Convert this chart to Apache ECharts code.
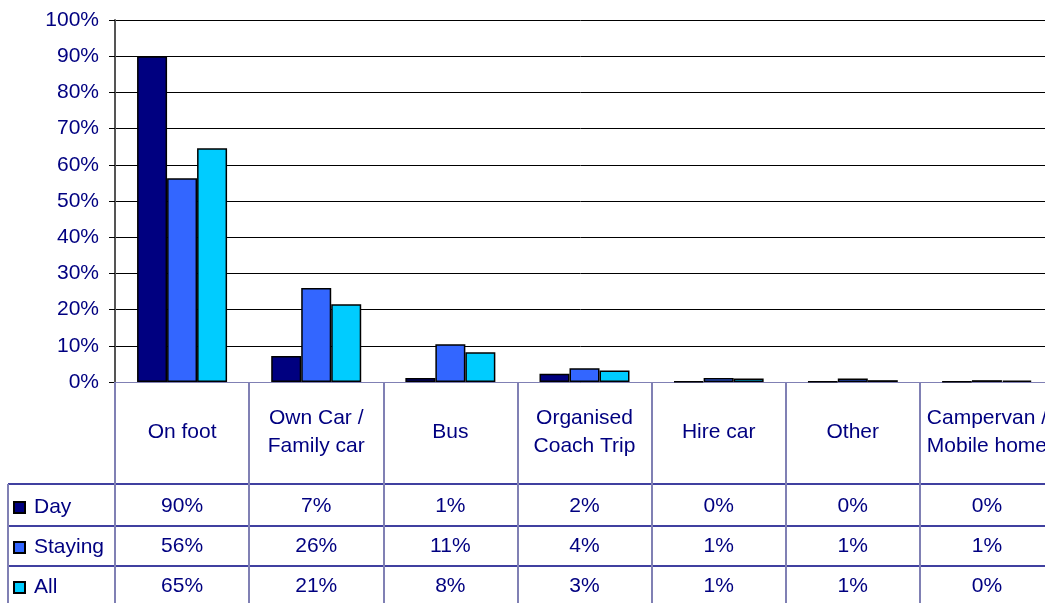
<!DOCTYPE html>
<html>
<head>
<meta charset="utf-8">
<script src="https://cdn.jsdelivr.net/npm/echarts@6/dist/echarts.min.js"></script>
<style>
  html, body { margin: 0; padding: 0; background: #fff; }
  #chart { width: 1045px; height: 603px; }
</style>
</head>
<body>
<div id="chart"></div>
<script>
// categories (x axis)
const categories = ['On foot', 'Own Car /\nFamily car', 'Bus', 'Organised\nCoach Trip', 'Hire car', 'Other', 'Campervan /\nMobile home'];
// bar heights (%)
const dayValues = [90, 7.2, 1.1, 2.3, 0.2, 0.1, 0.1];
const stayingValues = [56.3, 26, 10.4, 3.8, 1.1, 1.0, 0.5];
const allValues = [64.6, 21.5, 8.2, 3.2, 1.0, 0.5, 0.4];
// values printed in the data table (%)
const dayTable = [90, 7, 1, 2, 0, 0, 0];
const stayingTable = [56, 26, 11, 4, 1, 1, 1];
const allTable = [65, 21, 8, 3, 1, 1, 0];
const yTicks = [0, 10, 20, 30, 40, 50, 60, 70, 80, 90, 100];

const textColor = '#000080';
const tableLine = '#8080b4';
const rowLine = '#000080';
const font = 'Liberation Sans, Arial, sans-serif';
const fontSize = 21;

const chart = echarts.init(document.getElementById('chart'));

// one hidden-line x axis per table row, values shown as labels
function rowAxis(values, offset) {
  return {
    type: 'category',
    data: categories,
    position: 'bottom',
    offset: offset,
    axisLine: { show: false },
    axisTick: { show: false },
    axisLabel: {
      interval: 0,
      margin: 0,
      color: textColor,
      fontFamily: font,
      fontSize: fontSize,
      formatter: (v, i) => values[i] + '%'
    }
  };
}

const option = {
  animation: false,
  backgroundColor: '#fff',
  textStyle: { fontFamily: font },
  grid: {
    left: 115, top: 20, width: 939, height: 362,
    containLabel: false, outerBoundsMode: 'none'
  },
  legend: {
    data: ['Day', 'Staying', 'All'],
    orient: 'vertical',
    left: 8,
    top: 492,
    icon: 'rect',
    itemWidth: 11,
    itemHeight: 11,
    itemGap: 19,
    selectedMode: false,
    textStyle: { color: textColor, fontSize: fontSize, fontFamily: font, padding: [0, 0, 0, 4] }
  },
  xAxis: [
    {
      type: 'category',
      data: categories,
      axisLine: { show: true, lineStyle: { color: tableLine, width: 1 } },
      axisTick: { show: true, interval: 0, length: 225, lineStyle: { color: tableLine, width: 2 } },
      axisLabel: {
        interval: 0,
        margin: 50,
        verticalAlign: 'middle',
        lineHeight: 28,
        color: textColor,
        fontFamily: font,
        fontSize: fontSize
      }
    },
    rowAxis(dayTable, 114),
    rowAxis(stayingTable, 154),
    rowAxis(allTable, 194)
  ],
  yAxis: {
    type: 'value',
    min: yTicks[0],
    max: yTicks[yTicks.length - 1],
    interval: 10,
    axisLine: { show: true, lineStyle: { color: '#555', width: 2 } },
    axisTick: { show: true, length: 6, lineStyle: { color: '#000' } },
    splitLine: { show: true, lineStyle: { color: '#000', width: 1 } },
    axisLabel: {
      margin: 16,
      color: textColor,
      fontFamily: font,
      fontSize: fontSize,
      formatter: '{value}%'
    }
  },
  series: [
    { name: 'Day', data: dayValues, color: '#000080' },
    { name: 'Staying', data: stayingValues, color: '#3366ff' },
    { name: 'All', data: allValues, color: '#00ccff' }
  ].map(s => ({
    name: s.name,
    type: 'bar',
    data: s.data,
    barWidth: 30,
    barGap: '0%',
    itemStyle: { color: s.color, borderColor: '#000', borderWidth: 1.5 }
  })),
  graphic: [
    // data table frame
    { type: 'line', shape: { x1: 8, y1: 484, x2: 1045, y2: 484 }, style: { stroke: rowLine, lineWidth: 1.5 } },
    { type: 'line', shape: { x1: 8, y1: 526, x2: 1045, y2: 526 }, style: { stroke: rowLine, lineWidth: 1.5 } },
    { type: 'line', shape: { x1: 8, y1: 566, x2: 1045, y2: 566 }, style: { stroke: rowLine, lineWidth: 1.5 } },
    { type: 'line', shape: { x1: 8, y1: 484, x2: 8, y2: 603 }, style: { stroke: tableLine, lineWidth: 2 } }
  ]
};

chart.setOption(option);
</script>
</body>
</html>
